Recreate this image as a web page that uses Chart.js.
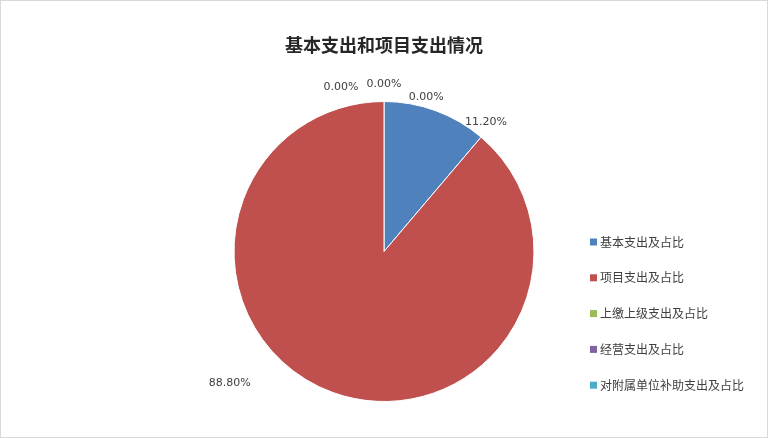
<!DOCTYPE html>
<html>
<head>
<meta charset="utf-8">
<script src="https://cdn.jsdelivr.net/npm/chart.js@4/dist/chart.umd.min.js"></script>
<style>
  html, body { margin: 0; padding: 0; background: #fff; }
  #wrap { position: absolute; left: 0; top: 0; width: 766px; height: 436px; border: 1px solid #d9d9d9; }
  canvas { display: block; }
</style>
</head>
<body>
<div id="wrap"><canvas id="chart" width="766" height="436"></canvas></div>
<script>
const chartTitle = "基本支出和项目支出情况";
const categories = ["基本支出及占比", "项目支出及占比", "上缴上级支出及占比", "经营支出及占比", "对附属单位补助支出及占比"];
const shares = [11.20, 88.80, 0, 0, 0];
const colors = ["#4F81BD", "#C0504D", "#9BBB59", "#8064A2", "#4BACC6"];

// where each percentage label sits: angle (deg, 0 = right) and distance as fraction of radius
const labelAngle = [-51.7, 139.6, -74.7, -90, -104.7];
const labelDist = [1.097, 1.35, 1.064, 1.113, 1.13];

const cjk = '"Noto Sans CJK SC", "DejaVu Sans", sans-serif';

const decorations = {
    id: "decorations",
    afterDraw(chart) {
        const ctx = chart.ctx;
        const arc = chart.getDatasetMeta(0).data[0];
        const cx = arc.x, cy = arc.y, r = arc.outerRadius;
        ctx.save();

        // title
        ctx.fillStyle = "#262626";
        ctx.font = "bold 18px " + cjk;
        ctx.textAlign = "center";
        ctx.textBaseline = "middle";
        ctx.fillText(chartTitle, cx, 44);

        // percent labels
        ctx.font = "11px \"DejaVu Sans\", sans-serif";
        ctx.fillStyle = "#404040";
        for (var i = 0; i < shares.length; i++) {
            var a = labelAngle[i] * Math.PI / 180;
            var x = cx + Math.cos(a) * r * labelDist[i];
            var y = cy + Math.sin(a) * r * labelDist[i];
            ctx.fillText(shares[i].toFixed(2) + "%", x, y);
        }

        // legend
        ctx.font = "12px " + cjk;
        ctx.textAlign = "left";
        for (var i = 0; i < categories.length; i++) {
            var ly = 241 + i * 35.8;
            ctx.fillStyle = colors[i];
            ctx.fillRect(589, ly - 3.5, 7, 7);
            ctx.fillStyle = "#404040";
            ctx.fillText(categories[i], 599, ly);
        }
        ctx.restore();
    }
};

new Chart(document.getElementById("chart"), {
    type: "pie",
    data: {
        labels: categories,
        datasets: [{
            data: shares,
            backgroundColor: colors,
            borderColor: "#ffffff",
            borderWidth: 1
        }]
    },
    options: {
        responsive: false,
        animation: false,
        layout: { padding: { top: 100, bottom: 35, left: 0, right: 0 } },
        plugins: {
            legend: { display: false },
            tooltip: { enabled: false }
        }
    },
    plugins: [decorations]
});
</script>
</body>
</html>
